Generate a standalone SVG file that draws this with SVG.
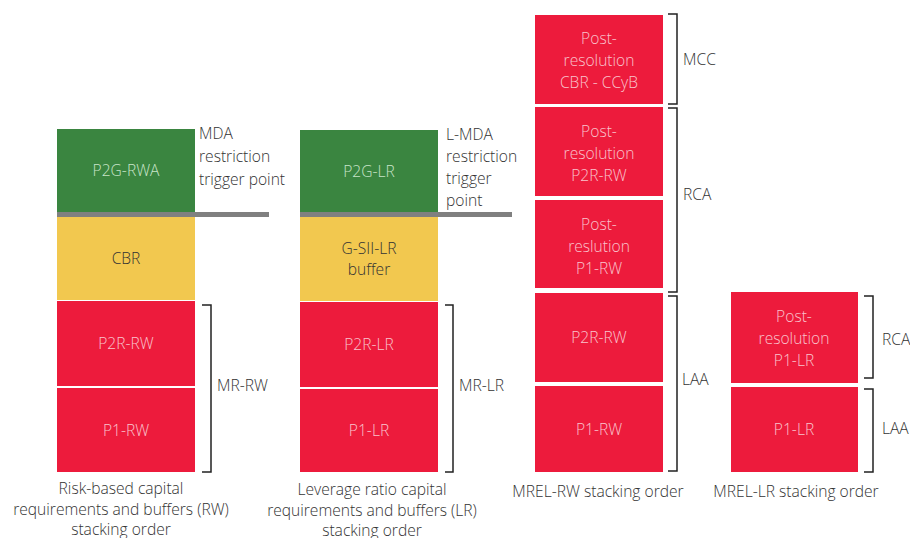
<svg xmlns="http://www.w3.org/2000/svg" width="910" height="538" viewBox="0 0 910 538">
<style>
text{font-family:"Open Sans","Liberation Sans",sans-serif;font-size:15.6px;font-weight:300}
.lbl{fill:#333}
.cap{fill:#333;text-anchor:middle}
.r rect{fill:#ed1b3c}
.r text{fill:#f9c3cc;text-anchor:middle}
.g rect{fill:#3a8540}
.g text{fill:#c8e4c8;text-anchor:middle}
.y rect{fill:#f2c84f}
.y text{fill:#333;text-anchor:middle}
.br{fill:none;stroke:#222;stroke-width:1.5}
.bar{fill:#808080}
</style>
<rect width="910" height="538" fill="#fff"/>
<!-- column 1 -->
<g id="p2g-rwa" class="g"><rect x="57" y="129" width="138" height="84"/><text x="126" y="176">P2G-RWA</text></g>
<g id="cbr" class="y"><rect x="57" y="217" width="138" height="83"/><text x="126" y="264">CBR</text></g>
<g id="p2r-rw" class="r"><rect x="57" y="301" width="138" height="85"/><text x="126" y="349">P2R-RW</text></g>
<g id="p1-rw" class="r"><rect x="57" y="388" width="138" height="84"/><text x="126" y="436">P1-RW</text></g>
<!-- column 2 -->
<g id="p2g-lr" class="g"><rect x="300" y="130" width="138" height="83"/><text x="369" y="177">P2G-LR</text></g>
<g id="gsii" class="y"><rect x="300" y="217" width="138" height="84"/><text x="369" y="254">G-SII-LR</text><text x="369" y="275">buffer</text></g>
<g id="p2r-lr" class="r"><rect x="300" y="302" width="138" height="85"/><text x="369" y="350">P2R-LR</text></g>
<g id="p1-lr" class="r"><rect x="300" y="389" width="138" height="83"/><text x="369" y="436">P1-LR</text></g>
<!-- column 3 -->
<g id="pr-cbr" class="r"><rect x="535" y="15" width="128" height="89"/><text x="599" y="44">Post-</text><text x="599" y="66">resolution</text><text x="599" y="88">CBR - CCyB</text></g>
<g id="pr-p2r-rw" class="r"><rect x="535" y="107" width="128" height="89"/><text x="599" y="137">Post-</text><text x="599" y="159">resolution</text><text x="599" y="181">P2R-RW</text></g>
<g id="pr-p1-rw" class="r"><rect x="535" y="200" width="128" height="88"/><text x="599" y="230">Post-</text><text x="599" y="252">reslution</text><text x="599" y="274">P1-RW</text></g>
<g id="m-p2r-rw" class="r"><rect x="535" y="293" width="128" height="89"/><text x="599" y="343">P2R-RW</text></g>
<g id="m-p1-rw" class="r"><rect x="535" y="386" width="128" height="86"/><text x="599" y="435">P1-RW</text></g>
<!-- column 4 -->
<g id="pr-p1-lr" class="r"><rect x="731" y="292" width="127" height="91"/><text x="794" y="322">Post-</text><text x="794" y="344">resolution</text><text x="794" y="366">P1-LR</text></g>
<g id="m-p1-lr" class="r"><rect x="731" y="387" width="127" height="85"/><text x="794" y="435">P1-LR</text></g>
<!-- connectors: trigger bars and brackets -->
<g id="connectors">
<rect class="bar" x="57" y="212" width="212" height="5"/>
<rect class="bar" x="300" y="212" width="212" height="5"/>
<path class="br" d="M202,305 H211 V472 H202"/>
<path class="br" d="M445,305 H453 V472 H445"/>
<path class="br" d="M668,14 H677 V104 H668"/>
<path class="br" d="M668,108 H677 V292 H668"/>
<path class="br" d="M668,296 H677 V471 H668"/>
<path class="br" d="M864,296 H873 V378 H864"/>
<path class="br" d="M864,389 H873 V472 H864"/>
</g>
<!-- labels -->
<g id="labels">
<text class="lbl" x="199" y="139">MDA</text>
<text class="lbl" x="199" y="162">restriction</text>
<text class="lbl" x="199" y="185">trigger point</text>
<text class="lbl" x="446" y="140">L-MDA</text>
<text class="lbl" x="446" y="162">restriction</text>
<text class="lbl" x="446" y="184">trigger</text>
<text class="lbl" x="446" y="206">point</text>
<text class="lbl" x="217" y="391">MR-RW</text>
<text class="lbl" x="459" y="391">MR-LR</text>
<text class="lbl" x="683" y="65">MCC</text>
<text class="lbl" x="683" y="200">RCA</text>
<text class="lbl" x="682" y="385">LAA</text>
<text class="lbl" x="882" y="345">RCA</text>
<text class="lbl" x="882" y="434">LAA</text>
<text class="cap" x="121" y="494">Risk-based capital</text>
<text class="cap" x="121" y="515">requirements and buffers (RW)</text>
<text class="cap" x="121" y="535">stacking order</text>
<text class="cap" x="372" y="495">Leverage ratio capital</text>
<text class="cap" x="372" y="516">requirements and buffers (LR)</text>
<text class="cap" x="372" y="536">stacking order</text>
<text class="cap" x="598" y="497">MREL-RW stacking order</text>
<text class="cap" x="796" y="497">MREL-LR stacking order</text>
</g>
</svg>
